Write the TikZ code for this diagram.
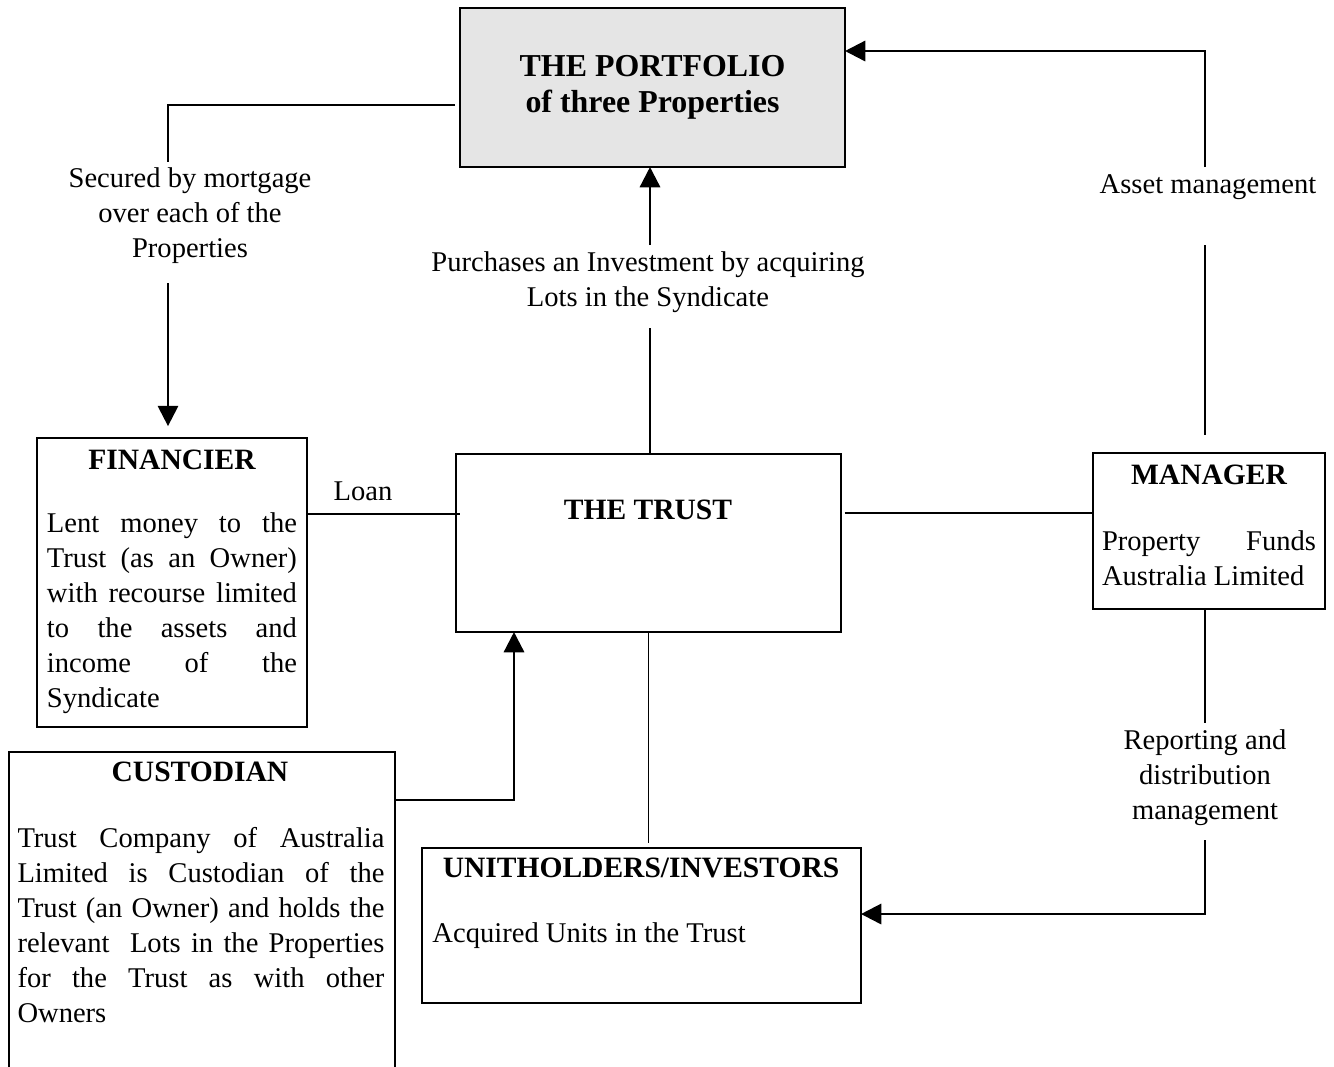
\documentclass[tikz,border=0pt]{standalone}
\usepackage{fontspec}
\setmainfont{Liberation Serif}
\usetikzlibrary{positioning,arrows.meta}

\tikzset{
  box/.style={draw, line width=0.8pt, inner sep=0pt, outer sep=0pt},
  head/.style={font=\fontsize{12.4}{14.7}\selectfont\bfseries, inner sep=0pt},
  body/.style={align=justify, inner sep=0pt},
  lbl/.style={align=center, inner sep=0pt},
  link/.style={line width=1pt},
  arr/.style={line width=1pt, -{Triangle[length=8.5pt,width=8.5pt]}}
}

\begin{document}
\begin{tikzpicture}[x=0.42pt, y=-0.42pt, font=\fontsize{12}{14.7}\selectfont]
\def\pxl{0.42pt}
\useasboundingbox (0,0) rectangle (1334,1066);
\clip (0,0) rectangle (1334,1066);

% boxes
\node[box, fill=black!10, minimum width=385*\pxl, minimum height=159*\pxl] (port) at (652.5,87.5) {};
\node[box, minimum width=270*\pxl, minimum height=289*\pxl] (fin) at (172,582.5) {};
\node[box, minimum width=385*\pxl, minimum height=178*\pxl] (trust) at (648.5,543) {};
\node[box, minimum width=232*\pxl, minimum height=156*\pxl] (mgr) at (1209,531) {};
\node[box, minimum width=386*\pxl, minimum height=340*\pxl] (cust) at (202,922) {};
\node[box, minimum width=439*\pxl, minimum height=155*\pxl] (unit) at (641.5,925.5) {};

% texts in the boxes
\node[head, font=\fontsize{13.4}{15.1}\selectfont\bfseries, align=center] (portT) at (port.center) {THE PORTFOLIO\\of three Properties};
\node[head] (trustT) at (648,510) {THE TRUST};
\node[head] (finT) at (172,460) {FINANCIER};
\node[body, text width=250*\pxl] (finB) at (172,613.5)
  {Lent money to the\linebreak Trust (as an Owner)\linebreak with recourse limited\linebreak to the assets and\linebreak income of the\linebreak Syndicate};
\node[head] (mgrT) at (1209,475) {MANAGER};
\node[body, text width=214*\pxl] (mgrB) at (1209,558)
  {Property Funds\linebreak Australia Limited};
\node[head] (custT) at (200,772) {CUSTODIAN};
\node[body, text width=367*\pxl] (custB) at (201,925.5)
  {Trust Company of Australia\linebreak Limited is Custodian of the\linebreak Trust (an Owner) and holds the\linebreak relevant~ Lots in the Properties\linebreak for the Trust as with other\linebreak Owners};
\node[head] (unitT) at (641,868) {UNITHOLDERS/INVESTORS};
\node[inner sep=0pt, anchor=west] (unitB) at (432,936) {Acquired Units in the Trust};

% labels on the connectors
\node[lbl] (secured) at (190,216) {Secured by mortgage\\over each of the\\Properties};
\node[lbl] (buys) at (648,282) {Purchases an Investment by acquiring\\Lots in the Syndicate};
\node[lbl] (asset) at (1208,187) {Asset management};
\node[lbl] (report) at (1205,778) {Reporting and\\distribution\\management};
\node[lbl] (loan) at (363,491) {Loan};

\coordinate (mortTop) at (168,162);
\coordinate (mortBot) at (168,283);
\coordinate (buyBot) at (650,328);
\coordinate (buyTop) at (650,245);
\coordinate (assetTop) at (1205,167);
\coordinate (assetBot) at (1205,245);
\coordinate (repTop) at (1205,723);
\coordinate (repBot) at (1205,840);

% connectors
\draw[link] ([xshift=-2pt]port.west |- 0,105) -| (mortTop);
\draw[arr, shorten >=5pt] (mortBot) -- (mortBot |- fin.north);
\draw[link] (trust.north -| buyBot) -- (buyBot);
\draw[arr] (buyTop) -- (port.south -| buyTop);
\draw[link, shorten >=7.5pt] (assetBot) -- (assetBot |- mgr.north);
\draw[arr] (assetTop) |- (port.east |- 0,51);
\draw[link] (fin.east |- 0,514) -- ([xshift=1.5pt]trust.west |- 0,514);
\draw[link] ([xshift=1.5pt]trust.east |- 0,513) -- (mgr.west |- 0,513);
\draw[arr] (cust.east |- 0,800) -| (trust.south -| 514,0);
\draw[line width=0.7pt, shorten >=2pt] (trust.south) -- (trust.south |- unit.north);
\draw[link] (mgr.south -| repTop) -- (repTop);
\draw[arr] (repBot) |- (unit.east |- 0,914);
\end{tikzpicture}
\end{document}
